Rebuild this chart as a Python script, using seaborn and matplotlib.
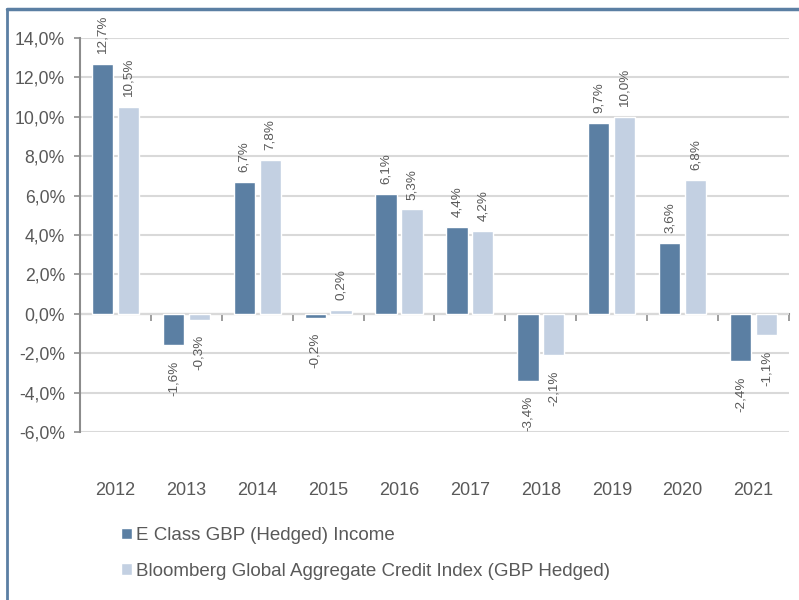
import numpy as np
import pandas as pd
import matplotlib
matplotlib.use("Agg")
from matplotlib import pyplot as plt
from matplotlib.lines import Line2D
from matplotlib.ticker import FuncFormatter
import seaborn as sns

sns.set_style("white")
plt.rcParams['font.family'] = ['Liberation Sans', 'DejaVu Sans']

# data
years = ['2012', '2013', '2014', '2015', '2016', '2017', '2018', '2019', '2020', '2021']
fund = [12.7, -1.6, 6.7, -0.2, 6.1, 4.4, -3.4, 9.7, 3.6, -2.4]
index = [10.5, -0.3, 7.8, 0.2, 5.3, 4.2, -2.1, 10.0, 6.8, -1.1]
series = ['E Class GBP (Hedged) Income',
          'Bloomberg Global Aggregate Credit Index (GBP Hedged)']

df = pd.DataFrame({
    'year': years * 2,
    'value': fund + index,
    'series': [series[0]] * len(years) + [series[1]] * len(years),
})

dark = '#5b7fa3'
light = '#c3d0e2'
txt = '#595959'
axis_grey = '#8c8c8c'

fig = plt.figure(figsize=(7.99, 6.0), dpi=100)
ax = fig.add_axes([0.1001, 0.28, 0.8874, 0.6567])

sns.barplot(data=df, x='year', y='value', hue='series', palette=[dark, light],
            width=0.73, gap=0.18, ax=ax, saturation=1, zorder=3)

ax.set_ylim(-6, 14)
ax.set_xlim(-0.5, 9.5)
ax.set_yticks(np.arange(-6, 15, 2))
ax.yaxis.set_major_formatter(FuncFormatter(lambda v, p: f"{v:.1f}%".replace('.', ',')))
ax.grid(axis='y', color='#d9d9d9', lw=1.5, zorder=0)
ax.set_xlabel('')
ax.set_ylabel('')

for s in ['top', 'right', 'bottom']:
    ax.spines[s].set_visible(False)
ax.spines['left'].set_color(axis_grey)
ax.spines['left'].set_linewidth(1.5)

ax.tick_params(axis='y', length=4.3, width=1.2, color=axis_grey, labelsize=12.7,
               labelcolor=txt, left=True, pad=6.5)
ax.tick_params(axis='x', length=0, labelsize=13, labelcolor=txt, pad=36)

# zero axis with tick marks between categories
sec = ax.secondary_xaxis(0.3)
sec.set_xticks(np.arange(0.5, 10, 1.0))
sec.set_xticklabels([])
sec.tick_params(length=5, width=1.2, color=axis_grey)
sec.spines['bottom'].set_color(axis_grey)
sec.spines['bottom'].set_linewidth(1.5)

# value labels: positives above, negatives below
for cont in ax.containers:
    vals = [b.get_height() for b in cont]
    pos = [f"{v:.1f}%".replace('.', ',') if v >= 0 else '' for v in vals]
    neg = [f"{v:.1f}%".replace('.', ',') if v < 0 else '' for v in vals]
    ax.bar_label(cont, labels=pos, rotation=90, padding=7, fontsize=9.7, color=txt)
    ax.bar_label(cont, labels=neg, rotation=90, padding=11, fontsize=9.7, color=txt)

sns.move_legend(ax, loc='upper left', bbox_to_anchor=(0.152, 0.122),
                bbox_transform=fig.transFigure, frameon=False, title=None,
                fontsize=13.5, handlelength=0.55, handleheight=0.55,
                handletextpad=0.2, labelspacing=1.0, borderaxespad=0,
                borderpad=0)
for t in ax.get_legend().get_texts():
    t.set_color(txt)

# panel border
fig.add_artist(Line2D([7 / 799, 1], [1 - 9 / 600, 1 - 9 / 600], color=dark, lw=2.5,
                      transform=fig.transFigure))
fig.add_artist(Line2D([7 / 799, 7 / 799], [0, 1 - 9 / 600], color=dark, lw=2,
                      transform=fig.transFigure))

plt.savefig('out.png', dpi=100)
plt.close()
